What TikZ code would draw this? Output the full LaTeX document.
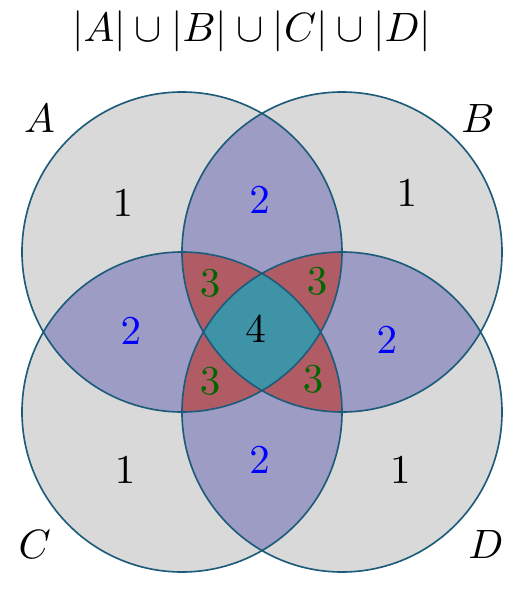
\documentclass[tikz,border=0pt]{standalone}
\usepackage{tikz}

\definecolor{onecol}{RGB}{217,217,217}
\definecolor{twocol}{RGB}{157,156,197}
\definecolor{threecol}{RGB}{177,92,100}
\definecolor{fourcol}{RGB}{62,147,166}
\definecolor{edgecol}{RGB}{28,92,122}

\tikzset{
  twolbl/.style={text=blue},
  threelbl/.style={text=green!40!black},
}

\begin{document}
\begin{tikzpicture}[scale=0.686]
        \useasboundingbox (-3.275,-3.2125) rectangle (3.2375,4.15);

        \coordinate (cA) at (-1, 1);
        \coordinate (cB) at (1, 1);
        \coordinate (cC) at (-1, -1);
        \coordinate (cD) at (1, -1);
        \def\circA{(cA) circle (2)}
        \def\circB{(cB) circle (2)}
        \def\circC{(cC) circle (2)}
        \def\circD{(cD) circle (2)}

        % Regions in one set
        \fill[onecol] \circA \circB \circC \circD;

        % Regions in two sets
        \foreach \p/\q in {\circA/\circB, \circA/\circC, \circA/\circD, \circB/\circC, \circB/\circD, \circC/\circD} {
            \begin{scope}
                \clip \p;
                \fill[twocol] \q;
            \end{scope}
        }

        % Regions in three sets
        \foreach \p/\q/\r in {\circA/\circB/\circC, \circA/\circB/\circD, \circA/\circC/\circD, \circB/\circC/\circD} {
            \begin{scope}
                \clip \p;
                \clip \q;
                \fill[threecol] \r;
            \end{scope}
        }

        % Region in all four sets
        \begin{scope}
            \clip \circA;
            \clip \circB;
            \clip \circC;
            \fill[fourcol] \circD;
        \end{scope}

        % Outlines
        \draw[edgecol] \circA \circB \circC \circD;

        \node (title) at (-0.13, 3.76) {$|A| \cup |B| \cup |C| \cup |D|$};
        \node (labA) at (-2.78, 2.67) {$A$};
        \node (labB) at (2.7, 2.67) {$B$};
        \node (labC) at (-2.84, -2.66) {$C$};
        \node (labD) at (2.8, -2.66) {$D$};

        \node (nA) at (-1.74, 1.61) {$1$};
        \node (nB) at (1.81, 1.74) {$1$};
        \node (nC) at (-1.71, -1.73) {$1$};
        \node (nD) at (1.73, -1.73) {$1$};

        \node[twolbl] (nAB) at (-0.03, 1.65) {$2$};
        \node[twolbl] (nAC) at (-1.64, 0.01) {$2$};
        \node[twolbl] (nBD) at (1.56, -0.1) {$2$};
        \node[twolbl] (nCD) at (-0.03, -1.6) {$2$};

        \node[threelbl] (nABC) at (-0.65, 0.61) {$3$};
        \node[threelbl] (nABD) at (0.69, 0.64) {$3$};
        \node[threelbl] (nACD) at (-0.65, -0.61) {$3$};
        \node[threelbl] (nBCD) at (0.64, -0.59) {$3$};

        \node (nABCD) at (-0.08, 0.03) {$4$};
    \end{tikzpicture}
\end{document}
